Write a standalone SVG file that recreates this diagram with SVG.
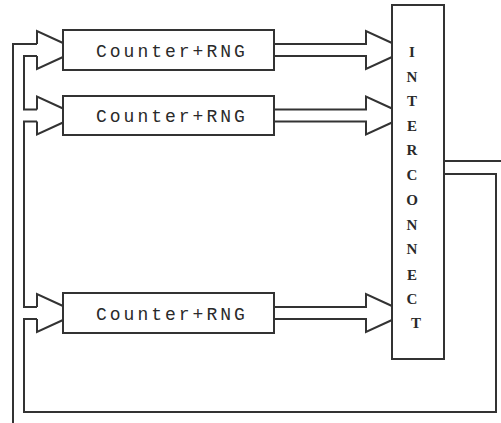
<svg xmlns="http://www.w3.org/2000/svg" width="501" height="423" viewBox="0 0 501 423">
<style>
.ln{fill:none;stroke:#333;stroke-width:2;stroke-linejoin:miter}
.bx{fill:#fff;stroke:#333;stroke-width:2}
.lbl{font-family:"Liberation Mono","Courier New",monospace;font-size:18px;fill:#2a2a2a;letter-spacing:3px}
.ic{font-family:"Liberation Serif","Times New Roman",serif;font-size:15px;font-weight:bold;fill:#2a2a2a;text-anchor:middle}
</style>
<rect width="501" height="423" fill="#fff"/>
<g id="connectors">
<path class="ln" d="M13,423 V44 H37"/>
<path class="ln" d="M37,56 H24 V109.5 H37"/>
<path class="ln" d="M37,121.5 H24 V307 H37"/>
<path class="ln" d="M37,319 H24 V412 H496 V174 H444"/>
<path class="ln" d="M444,161 H501"/>
<path class="ln" d="M37,44 V31 L63,43 M63,57 L37,69 V56"/>
<path class="ln" d="M37,109.5 V96.5 L63,108.5 M63,122.5 L37,134.5 V121.5"/>
<path class="ln" d="M37,307 V294 L63,306 M63,320 L37,332 V319"/>
<path class="ln" d="M274,44 H366 V31 L392,43 M392,57 L366,69 V56 H274"/>
<path class="ln" d="M274,109.5 H366 V96.5 L392,108.5 M392,122.5 L366,134.5 V121.5 H274"/>
<path class="ln" d="M274,307 H366 V294 L392,306 M392,320 L366,332 V319 H274"/>
</g>
<g id="node1">
<rect class="bx" x="63" y="30" width="211" height="40"/>
<text class="lbl" x="96" y="57">Counter+RNG</text>
</g>
<g id="node2">
<rect class="bx" x="63" y="96" width="211" height="39"/>
<text class="lbl" x="96" y="122">Counter+RNG</text>
</g>
<g id="node3">
<rect class="bx" x="63" y="293" width="211" height="40"/>
<text class="lbl" x="96" y="320">Counter+RNG</text>
</g>
<g id="interconnect">
<rect class="bx" x="392" y="5" width="52" height="354"/>
<text class="ic" x="412" y="57">I</text>
<text class="ic" x="412" y="82">N</text>
<text class="ic" x="412" y="106">T</text>
<text class="ic" x="412" y="131">E</text>
<text class="ic" x="412" y="155">R</text>
<text class="ic" x="412" y="180">C</text>
<text class="ic" x="412" y="205">O</text>
<text class="ic" x="412" y="230">N</text>
<text class="ic" x="412" y="254">N</text>
<text class="ic" x="412" y="280">E</text>
<text class="ic" x="412" y="304">C</text>
<text class="ic" x="416" y="328">T</text>
</g>
</svg>
